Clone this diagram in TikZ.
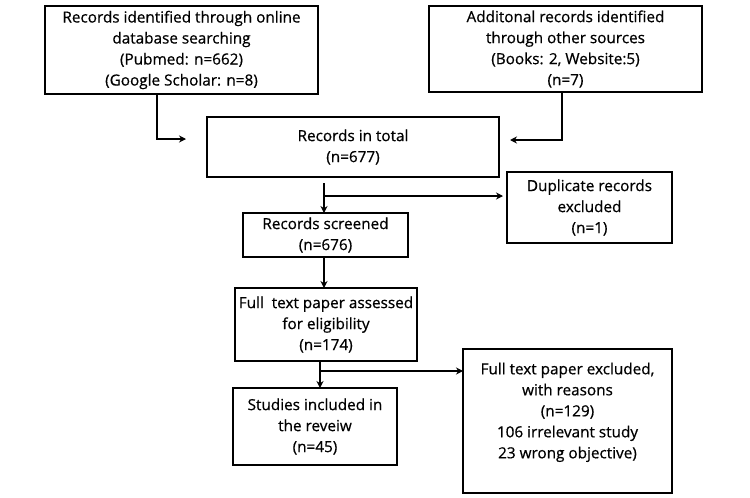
\documentclass[tikz,border=0pt]{standalone}
\usepackage{fontspec}
\setmainfont[FakeBold=0.6]{Open Sans}
\usetikzlibrary{arrows.meta}

\begin{document}
\begin{tikzpicture}[x=1pt,y=-1pt,
	box/.style={draw,line width=2pt,inner sep=0pt,outer sep=0pt,align=center,
		font=\fontsize{15.3}{21}\selectfont},
	arr/.style={draw,line width=2pt,-{Stealth[length=7pt,width=7pt]}}]
	\useasboundingbox (0,0) rectangle (750,498);
	\node[box,minimum width=273pt,minimum height=88pt] (search) at (181.5,50)
		{Records identified through online\\database searching\\ (Pubmed: n=662)\\(Google Scholar: n=8)};
	\node[box,minimum width=273pt,minimum height=86pt] (other) at (565.5,49)
		{Additonal records identified\\through other sources\\(Books: 2, Website:5)\\(n=7)};
	\node[box,minimum width=292pt,minimum height=60pt] (total) at (353,147)
		{Records in total\\(n=677)};
	\node[box,minimum width=165pt,minimum height=71pt] (dup) at (589.5,207.5)
		{Duplicate records\\excluded\\(n=1)};
	\node[box,minimum width=165pt,minimum height=44pt] (screen) at (325.5,235)
		{Records screened\\(n=676)};
	\node[box,minimum width=182pt,minimum height=73pt] (full) at (326,324.5)
		{Full\ \ text paper assessed\\for eligibility\\(n=174)};
	\node[box,minimum width=164pt,minimum height=77pt] (incl) at (315,426.5)
		{Studies included in\\the reveiw\\(n=45)};
	\node[box,minimum width=209pt,minimum height=144pt] (excl) at (567.5,421)
		{Full text paper excluded,\\with reasons\\(n=129)\\106 irrelevant study\\23 wrong objective)\\ \mbox{}};
	\coordinate (split1) at (324,196);
	\coordinate (split2) at (320,371);
	\draw[arr] ([xshift=-24.5pt]search.south) |- ([xshift=-21pt,yshift=8pt]total.west);
	\draw[arr] ([xshift=-3.5pt]other.south) |- ([xshift=11pt,yshift=7pt]total.east);
	\draw[arr] ([yshift=-6pt]total.south -| split1) -- (split1 |- screen.north);
	\draw[arr] (split1) -- ([xshift=-4pt]split1 -| dup.west);
	\draw[arr] (screen.south -| split1) -- (split1 |- full.north);
	\draw[arr] (split2 |- full.south) -- (split2 |- incl.north);
	\draw[arr] (split2) -- (split2 -| excl.west);
\end{tikzpicture}
\end{document}
